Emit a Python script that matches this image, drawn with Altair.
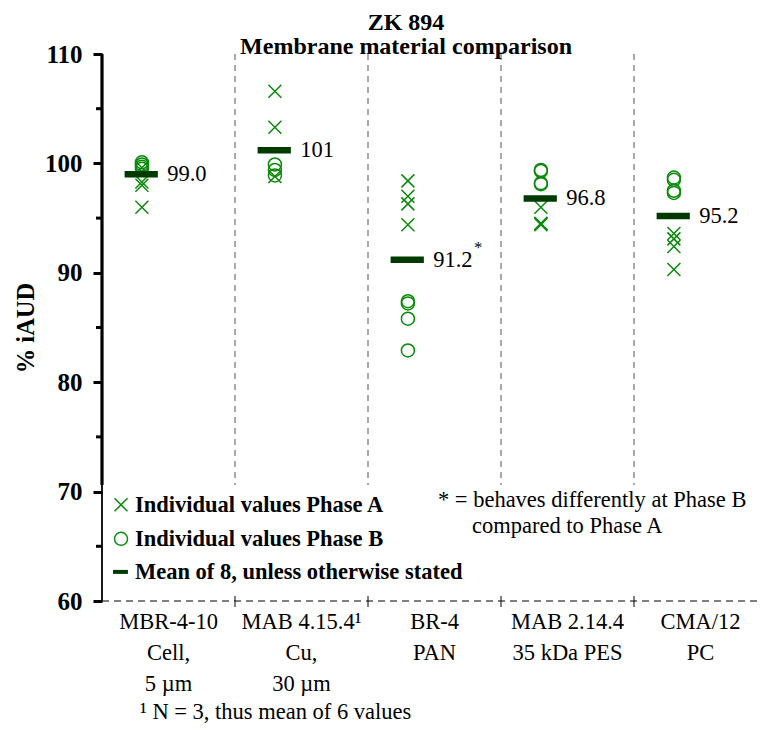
import altair as alt
import pandas as pd

# ---------------- data ----------------
categories = ["MBR-4-10", "MAB 4.15.4", "BR-4", "MAB 2.14.4", "CMA/12"]
axis_labels = [
    "MBR-4-10\nCell,\n5 µm",
    "MAB 4.15.4¹\nCu,\n30 µm",
    "BR-4\nPAN",
    "MAB 2.14.4\n35 kDa PES",
    "CMA/12\nPC",
]
phase_a = [
    [99.6, 98.3, 98.0, 96.0],
    [106.6, 103.3, 98.8],
    [98.4, 97.0, 96.3, 94.4],
    [96.0, 94.5, 94.4, 94.5],
    [93.6, 93.1, 92.4, 90.3],
]
phase_b = [
    [100.1, 99.9, 99.7, 99.5],
    [99.9, 99.4, 98.9],
    [87.4, 87.2, 85.8, 82.9],
    [99.4, 99.3, 98.2, 98.1],
    [98.7, 98.5, 97.5, 97.3],
]
means = [99.0, 101.2, 91.2, 96.8, 95.2]
mean_labels = ["99.0", "101", "91.2", "96.8", "95.2"]
mean_marks = ["", "", "*", "", ""]
legend_labels = [
    "Individual values Phase A",
    "Individual values Phase B",
    "Mean of 8, unless otherwise stated",
]
note_lines = ["* = behaves differently at Phase B", "compared to Phase A"]
footnote = "¹  N = 3, thus mean of 6 values"
title_lines = ["ZK 894", "Membrane material comparison"]
y_title = "% iAUD"
y_ticks = [60, 70, 80, 90, 100, 110]
y_minor = [65, 75, 85, 95, 105]

# ---------------- style / layout ----------------
GREEN = "#0a8a0a"
DARK = "#003a00"
FONT = "Liberation Serif"
XPATH = "M-1,-1L1,1M-1,1L1,-1"
W, H = 655, 547
XMAX = W / 133.0
OFF = 0.30
TXT = 22.5

xscale = alt.Scale(domain=[0, XMAX], nice=False, zero=False)
yscale = alt.Scale(domain=[60, 110], nice=False, zero=False)
yaxis = alt.Axis(
    values=y_ticks, title=y_title, domain=False, grid=False,
    tickSize=9, tickWidth=3, tickColor="black",
    labelFont=FONT, labelFontSize=25, labelFontWeight="bold", labelColor="black",
    labelPadding=11, labelOverlap=False,
    titleFont=FONT, titleFontSize=24.5, titleFontWeight="bold", titleColor="black",
    titleX=-69, titleY=H / 2, titleAngle=270, titleAlign="center", titleBaseline="alphabetic",
)


def X(f):
    return alt.X(f"{f}:Q", scale=xscale, axis=None)


def Y(f):
    return alt.Y(f"{f}:Q", scale=yscale, axis=yaxis)


rows = []
for i, cat in enumerate(categories):
    for v in phase_a[i]:
        rows.append({"cat": cat, "x": i + OFF, "v": v, "phase": "A"})
    for v in phase_b[i]:
        rows.append({"cat": cat, "x": i + OFF, "v": v, "phase": "B"})
pts = pd.DataFrame(rows)

mdf = pd.DataFrame({
    "cat": categories,
    "i": list(range(len(categories))),
    "m": means,
    "lab": mean_labels,
    "sup": mean_marks,
    "axlab": axis_labels,
})
mdf["xl"] = mdf["i"] + 0.17
mdf["xr"] = mdf["i"] + 0.42
mdf["xt"] = mdf["i"] + 0.49
mdf["xc"] = mdf["i"] + 0.5
mdf["y0"] = 60

shape_enc = alt.Shape(
    "phase:N",
    scale=alt.Scale(domain=["A", "B"], range=[XPATH, "circle"]),
    legend=None,
)

sep = pd.DataFrame({"x": [1, 2, 3, 4], "y": 110, "y2": 70.6, "t1": 60.45, "t2": 59.45})
separators = alt.Chart(sep).mark_rule(color="#555555", strokeWidth=1, strokeDash=[6, 5]).encode(
    x=X("x"), y=Y("y"), y2="y2:Q")
xticks = alt.Chart(sep).mark_rule(color="black", strokeWidth=1).encode(
    x=X("x"), y=Y("t1"), y2="t2:Q")
baseline = alt.Chart(pd.DataFrame({"x": [0.0], "x2": [XMAX], "y": [60]})).mark_rule(
    color="black", strokeWidth=1, strokeDash=[7, 5]).encode(x=X("x"), x2="x2:Q", y=Y("y"))

dom = pd.DataFrame({"x": [0.0, 0.0], "y": [110, 70.6], "y2": [70.6, 60], "w": [3.2, 1.8]})
ydomain = alt.Chart(dom).mark_rule(color="black").encode(
    x=X("x"), y=Y("y"), y2="y2:Q", strokeWidth=alt.StrokeWidth("w:Q", scale=None))
minor = alt.Chart(pd.DataFrame({"y": y_minor, "x": -0.045, "x2": 0.0})).mark_rule(
    color="black", strokeWidth=3).encode(x=X("x"), x2="x2:Q", y=Y("y"))

points = alt.Chart(pts).mark_point(filled=False, size=169, strokeWidth=1.5, color=GREEN, opacity=1).encode(
    x=X("x"), y=Y("v"), shape=shape_enc)

bars = alt.Chart(mdf).mark_rule(color=DARK, strokeWidth=6.5, strokeCap="butt").encode(
    x=X("xl"), x2="xr:Q", y=Y("m"))
mlabels = alt.Chart(mdf).mark_text(font=FONT, fontSize=TXT, align="left", baseline="middle", color="black").encode(
    x=X("xt"), y=Y("m"), text="lab:N")
msup = alt.Chart(mdf).mark_text(font=FONT, fontSize=16, align="left", baseline="middle", color="black",
                                dx=41, dy=-12).encode(x=X("xt"), y=Y("m"), text="sup:N")

xlabels = alt.Chart(mdf).mark_text(font=FONT, fontSize=TXT, align="center", baseline="top", color="black",
                                   lineBreak="\n", lineHeight=31, dy=10).encode(
    x=X("xc"), y=Y("y0"), text="axlab:N")

leg_sym = pd.DataFrame({"x": [0.143, 0.143], "y": [68.79, 65.68], "phase": ["A", "B"]})
legend_symbols = alt.Chart(leg_sym).mark_point(filled=False, size=169, strokeWidth=1.5, color=GREEN, opacity=1).encode(
    x=X("x"), y=Y("y"), shape=shape_enc)
legend_bar = alt.Chart(pd.DataFrame({"x": [0.083], "x2": [0.195], "y": [62.66]})).mark_rule(
    color=DARK, strokeWidth=4, strokeCap="butt").encode(x=X("x"), x2="x2:Q", y=Y("y"))
leg_txt = pd.DataFrame({"x": 0.248, "y": [68.79, 65.68, 62.66], "t": legend_labels})
legend_text = alt.Chart(leg_txt).mark_text(font=FONT, fontSize=TXT, fontWeight="bold", align="left",
                                            baseline="middle", color="black").encode(
    x=X("x"), y=Y("y"), text="t:N")

note = pd.DataFrame({"x": [2.526, 2.782], "y": [69.23, 66.86], "t": note_lines})
note_text = alt.Chart(note).mark_text(font=FONT, fontSize=TXT, align="left", baseline="middle", color="black").encode(
    x=X("x"), y=Y("y"), text="t:N")

foot = alt.Chart(pd.DataFrame({"x": [0.286], "y": [49.85], "t": [footnote]})).mark_text(
    font=FONT, fontSize=TXT, align="left", baseline="middle", color="black").encode(
    x=X("x"), y=Y("y"), text="t:N")

title = alt.Chart(pd.DataFrame({"x": [2.286], "y": [112.2], "t": ["\n".join(title_lines)]})).mark_text(
    font=FONT, fontSize=24, fontWeight="bold", align="center", baseline="alphabetic", color="black",
    lineBreak="\n", lineHeight=24).encode(x=X("x"), y=Y("y"), text="t:N")

chart = alt.layer(
    separators, xticks, baseline, ydomain, minor,
    points, bars, mlabels, msup, xlabels,
    legend_symbols, legend_bar, legend_text, note_text, foot, title,
).properties(
    width=W, height=H,
    autosize=alt.AutoSizeParams(type="none"),
    padding={"left": 94, "top": 46, "right": 0, "bottom": 124},
    background="white",
).configure_view(stroke=None)

chart.save("out.html", embed_options={"renderer": "svg", "actions": False})
